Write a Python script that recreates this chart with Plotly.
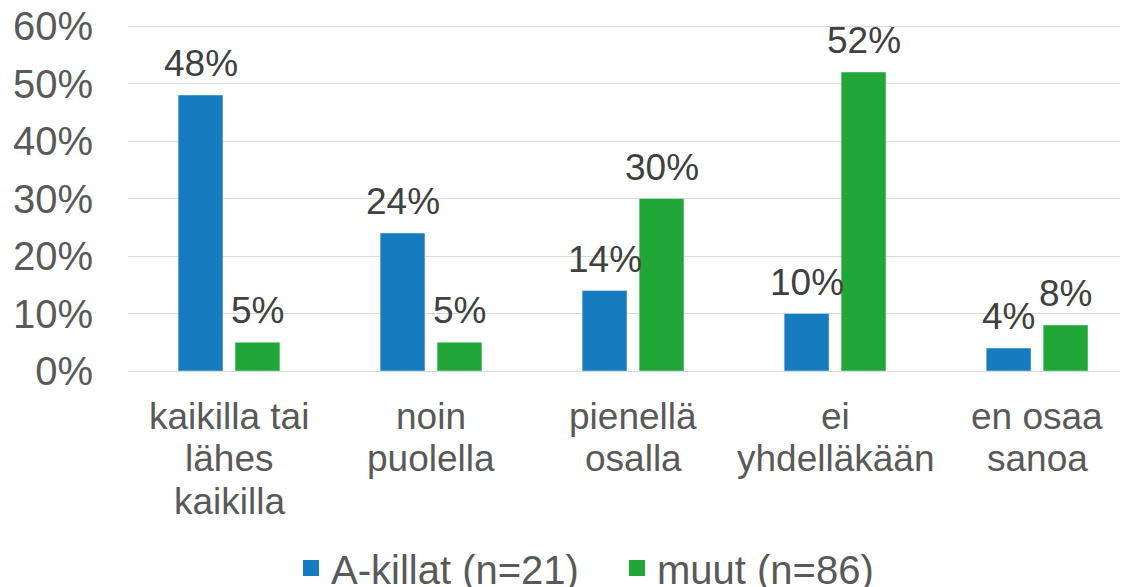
import plotly.graph_objects as go

categories = ["kaikilla tai<br>lähes<br>kaikilla", "noin<br>puolella", "pienellä<br>osalla", "ei<br>yhdelläkään", "en osaa<br>sanoa"]
a_killat = [0.48, 0.24, 0.14, 0.10, 0.04]
muut = [0.05, 0.05, 0.30, 0.52, 0.08]
series_names = ["A-killat (n=21)", "muut (n=86)"]
colors = ["#177bbf", "#21a638"]
y_ticks = [0, 0.1, 0.2, 0.3, 0.4, 0.5, 0.6]

FONT = "Liberation Sans, Arial, sans-serif"
BAR_W = 0.222
OFFSETS = [-0.252, 0.03]

fig = go.Figure()
for vals, name, col, off in zip([a_killat, muut], series_names, colors, OFFSETS):
    fig.add_trace(go.Bar(
        x=list(range(len(categories))), y=vals, name=name,
        marker=dict(color=col),
        width=BAR_W, offset=off,
        showlegend=False,
    ))
    # legend entry with a larger square swatch
    fig.add_trace(go.Scatter(
        x=[None], y=[None], mode="markers", name=name,
        marker=dict(symbol="square", size=21, color=col),
        showlegend=True,
    ))
    # value labels above bars
    for i, v in enumerate(vals):
        fig.add_annotation(x=i + off + BAR_W / 2, xref="x", y=v, yref="y",
                           text=f"{v:.0%}", showarrow=False, yanchor="bottom", yshift=9,
                           font=dict(family=FONT, size=37, color="#404040"))

# category labels, one annotation per line for tighter line spacing
for i, cat in enumerate(categories):
    for j, line in enumerate(cat.split("<br>")):
        fig.add_annotation(x=i, xref="x", y=0, yref="paper", text=line,
                           showarrow=False, yanchor="middle", yshift=-45 - 42.5 * j,
                           font=dict(family=FONT, size=37, color="#595959"))

fig.update_layout(
    width=1128, height=595,
    margin=dict(l=120, r=8, t=16, b=232, autoexpand=False),
    plot_bgcolor="white", paper_bgcolor="white",
    font=dict(family=FONT, size=37, color="#595959"),
    showlegend=True,
    legend=dict(orientation="h", x=(291 - 128) / 1000, xanchor="left", y=-0.568, yanchor="middle",
                font=dict(size=40, color="#595959"), itemsizing="trace",
                itemwidth=30, traceorder="normal", entrywidth=281),
)
fig.update_xaxes(range=[-0.5, 4.45], showgrid=False, showline=False, ticks="",
                 showticklabels=False, automargin=False)
fig.update_yaxes(range=[0, 0.6035], tickvals=y_ticks, tickformat=".0%",
                 showgrid=True, gridcolor="#d9d9d9", gridwidth=1,
                 zeroline=True, zerolinecolor="#d9d9d9", zerolinewidth=1,
                 showline=False, ticks="", ticklabelstandoff=34, automargin=False,
                 ticklabeloverflow="allow",
                 tickfont=dict(size=40, color="#595959"))
fig.write_html("out.html")
